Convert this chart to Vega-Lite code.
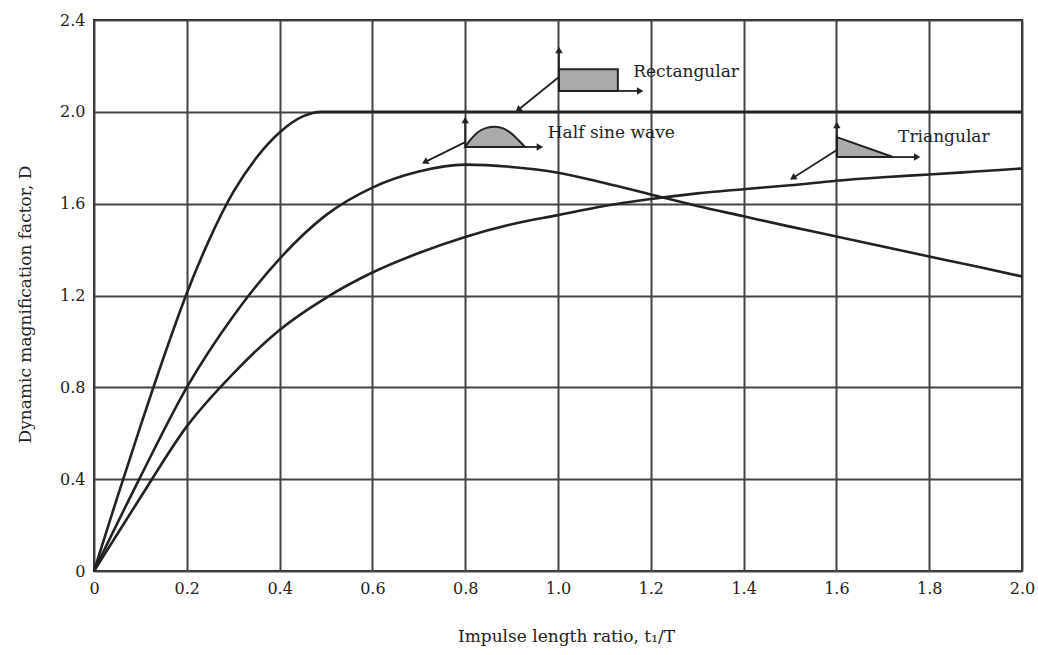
{
  "$schema": "https://vega.github.io/schema/vega-lite/v6.json",
  "width": 928,
  "height": 551,
  "autosize": {"type": "none"},
  "padding": {"left": 94, "top": 20, "right": 16, "bottom": 84},
  "background": "white",
  "config": {
    "view": {"stroke": "#222", "strokeWidth": 2},
    "font": "DejaVu Serif"
  },
  "datasets": {
    "curves": [
      {"series": "Rectangular", "t": 0, "D": 0},
      {"series": "Rectangular", "t": 0.05, "D": 0.32},
      {"series": "Rectangular", "t": 0.1, "D": 0.63},
      {"series": "Rectangular", "t": 0.15, "D": 0.93},
      {"series": "Rectangular", "t": 0.2, "D": 1.21},
      {"series": "Rectangular", "t": 0.25, "D": 1.45},
      {"series": "Rectangular", "t": 0.3, "D": 1.65},
      {"series": "Rectangular", "t": 0.35, "D": 1.8},
      {"series": "Rectangular", "t": 0.4, "D": 1.91},
      {"series": "Rectangular", "t": 0.45, "D": 1.98},
      {"series": "Rectangular", "t": 0.49, "D": 2.0},
      {"series": "Rectangular", "t": 1.0, "D": 2.0},
      {"series": "Rectangular", "t": 2.0, "D": 2.0},
      {"series": "Half sine", "t": 0, "D": 0},
      {"series": "Half sine", "t": 0.1, "D": 0.41},
      {"series": "Half sine", "t": 0.2, "D": 0.8},
      {"series": "Half sine", "t": 0.3, "D": 1.11},
      {"series": "Half sine", "t": 0.4, "D": 1.36},
      {"series": "Half sine", "t": 0.5, "D": 1.55},
      {"series": "Half sine", "t": 0.6, "D": 1.67},
      {"series": "Half sine", "t": 0.7, "D": 1.74},
      {"series": "Half sine", "t": 0.8, "D": 1.77},
      {"series": "Half sine", "t": 0.9, "D": 1.76},
      {"series": "Half sine", "t": 1.0, "D": 1.735},
      {"series": "Half sine", "t": 1.1, "D": 1.69},
      {"series": "Half sine", "t": 1.2, "D": 1.64},
      {"series": "Half sine", "t": 1.3, "D": 1.59},
      {"series": "Half sine", "t": 1.4, "D": 1.545},
      {"series": "Half sine", "t": 1.5, "D": 1.5},
      {"series": "Half sine", "t": 1.6, "D": 1.457},
      {"series": "Half sine", "t": 1.7, "D": 1.413},
      {"series": "Half sine", "t": 1.8, "D": 1.37},
      {"series": "Half sine", "t": 1.9, "D": 1.327},
      {"series": "Half sine", "t": 2.0, "D": 1.283},
      {"series": "Triangular", "t": 0, "D": 0},
      {"series": "Triangular", "t": 0.1, "D": 0.32},
      {"series": "Triangular", "t": 0.2, "D": 0.63},
      {"series": "Triangular", "t": 0.3, "D": 0.86},
      {"series": "Triangular", "t": 0.4, "D": 1.05},
      {"series": "Triangular", "t": 0.5, "D": 1.19},
      {"series": "Triangular", "t": 0.6, "D": 1.3},
      {"series": "Triangular", "t": 0.7, "D": 1.385},
      {"series": "Triangular", "t": 0.8, "D": 1.455},
      {"series": "Triangular", "t": 0.9, "D": 1.51},
      {"series": "Triangular", "t": 1.0, "D": 1.55},
      {"series": "Triangular", "t": 1.1, "D": 1.59},
      {"series": "Triangular", "t": 1.2, "D": 1.62},
      {"series": "Triangular", "t": 1.3, "D": 1.645},
      {"series": "Triangular", "t": 1.4, "D": 1.663},
      {"series": "Triangular", "t": 1.5, "D": 1.68},
      {"series": "Triangular", "t": 1.6, "D": 1.7},
      {"series": "Triangular", "t": 1.7, "D": 1.715},
      {"series": "Triangular", "t": 1.8, "D": 1.727},
      {"series": "Triangular", "t": 1.9, "D": 1.74},
      {"series": "Triangular", "t": 2.0, "D": 1.753}
    ],
    "rectIcon": [
      {"t": 1.002, "t2": 1.129, "D": 2.091, "D2": 2.186}
    ],
    "sineIcon": [
      {"t": 0.8, "D": 1.847},
      {"t": 0.812, "D": 1.88},
      {"t": 0.828, "D": 1.912},
      {"t": 0.846, "D": 1.93},
      {"t": 0.864, "D": 1.935},
      {"t": 0.882, "D": 1.928},
      {"t": 0.9, "D": 1.905},
      {"t": 0.916, "D": 1.874},
      {"t": 0.929, "D": 1.847}
    ],
    "triIcon": [
      {"t": 1.601, "D": 1.89},
      {"t": 1.722, "D": 1.803}
    ],
    "arrows": [
      {"t": 1.002, "D": 2.091, "t2": 1.002, "D2": 2.269, "ang": 0},
      {"t": 1.129, "D": 2.091, "t2": 1.177, "D2": 2.091, "ang": 90},
      {"t": 1.002, "D": 2.152, "t2": 0.914, "D2": 2.008, "ang": 231},
      {"t": 0.8, "D": 1.847, "t2": 0.8, "D2": 1.964, "ang": 0},
      {"t": 0.929, "D": 1.847, "t2": 0.961, "D2": 1.847, "ang": 90},
      {"t": 0.8, "D": 1.868, "t2": 0.713, "D2": 1.781, "ang": 243},
      {"t": 1.601, "D": 1.803, "t2": 1.601, "D2": 1.943, "ang": 0},
      {"t": 1.722, "D": 1.803, "t2": 1.774, "D2": 1.803, "ang": 90},
      {"t": 1.601, "D": 1.834, "t2": 1.506, "D2": 1.712, "ang": 237}
    ],
    "labels": [
      {"t": 1.162, "D": 2.173, "label": "Rectangular"},
      {"t": 0.978, "D": 1.908, "label": "Half sine wave"},
      {"t": 1.733, "D": 1.89, "label": "Triangular"}
    ]
  },
  "encoding": {
    "x": {
      "field": "t", "type": "quantitative",
      "scale": {"domain": [0, 2], "nice": false, "zero": true},
      "axis": {
        "values": [0, 0.2, 0.4, 0.6, 0.8, 1.0, 1.2, 1.4, 1.6, 1.8, 2.0],
        "labelExpr": "datum.value == 0 ? '0' : format(datum.value, '.1f')",
        "grid": true, "gridColor": "#444", "gridWidth": 2, "gridOpacity": 1,
        "domain": false, "ticks": false,
        "labelFont": "DejaVu Serif", "labelFontSize": 16, "labelColor": "#222",
        "labelPadding": 9, "labelFlush": false,
        "title": "Impulse length ratio, t₁/T",
        "titleFont": "DejaVu Serif", "titleFontSize": 17, "titleFontWeight": "normal", "titleColor": "#222",
        "titleX": 472, "titleY": 65, "titleBaseline": "middle", "titleAlign": "center"
      }
    },
    "y": {
      "field": "D", "type": "quantitative",
      "scale": {"domain": [0, 2.4], "nice": false, "zero": true},
      "axis": {
        "values": [0, 0.4, 0.8, 1.2, 1.6, 2.0, 2.4],
        "labelExpr": "datum.value == 0 ? '0' : format(datum.value, '.1f')",
        "grid": true, "gridColor": "#444", "gridWidth": 2, "gridOpacity": 1,
        "domain": false, "ticks": false,
        "labelFont": "DejaVu Serif", "labelFontSize": 16, "labelColor": "#222",
        "labelPadding": 9, "labelFlush": false,
        "title": "Dynamic magnification factor, D",
        "titleFont": "DejaVu Serif", "titleFontSize": 17, "titleFontWeight": "normal", "titleColor": "#222",
        "titleX": -69, "titleY": 284, "titleBaseline": "middle", "titleAlign": "center", "titleAngle": -90
      }
    }
  },
  "layer": [
    {
      "data": {"name": "curves"},
      "mark": {"type": "line", "interpolate": "monotone", "color": "#222", "strokeWidth": 2.6},
      "encoding": {
        "detail": {"field": "series", "type": "nominal"}
      }
    },
    {
      "data": {"name": "rectIcon"},
      "mark": {"type": "rect", "fill": "#aaa", "stroke": "#222", "strokeWidth": 2},
      "encoding": {
        "x2": {"field": "t2"},
        "y2": {"field": "D2"}
      }
    },
    {
      "data": {"name": "sineIcon"},
      "mark": {"type": "area", "interpolate": "monotone", "fill": "#aaa", "stroke": "#222", "strokeWidth": 2},
      "encoding": {
        "y2": {"datum": 1.847}
      }
    },
    {
      "data": {"name": "triIcon"},
      "mark": {"type": "area", "fill": "#aaa", "stroke": "#222", "strokeWidth": 2},
      "encoding": {
        "y2": {"datum": 1.803}
      }
    },
    {
      "data": {"name": "arrows"},
      "mark": {"type": "rule", "color": "#222", "strokeWidth": 1.8},
      "encoding": {
        "x2": {"field": "t2"},
        "y2": {"field": "D2"}
      }
    },
    {
      "data": {"name": "arrows"},
      "mark": {"type": "point", "shape": "triangle-up", "filled": true, "color": "#222", "size": 55, "opacity": 1},
      "encoding": {
        "x": {"field": "t2", "type": "quantitative"},
        "y": {"field": "D2", "type": "quantitative"},
        "angle": {"field": "ang", "type": "quantitative", "scale": null}
      }
    },
    {
      "data": {"name": "labels"},
      "mark": {"type": "text", "align": "left", "baseline": "middle", "font": "DejaVu Serif", "fontSize": 17, "color": "#222"},
      "encoding": {
        "text": {"field": "label"}
      }
    }
  ]
}
